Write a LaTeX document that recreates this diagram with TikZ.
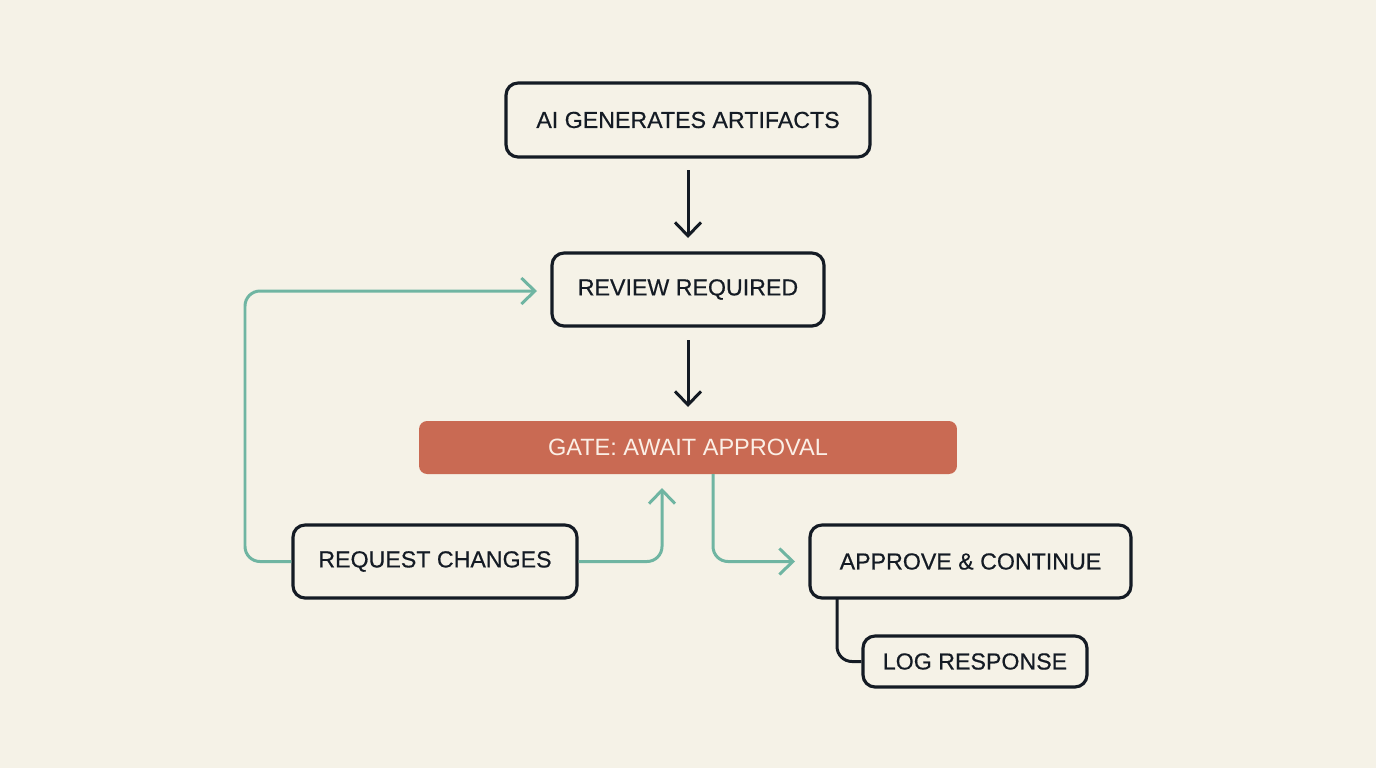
\documentclass[tikz,border=0pt]{standalone}
\usepackage{fontspec}
\setmainfont{Liberation Sans}
\newfontfamily\boxfont{Liberation Sans}[FakeBold=0.5]
\usetikzlibrary{arrows.meta}
\definecolor{bgc}{HTML}{F5F2E7}
\definecolor{ink}{HTML}{141B24}
\definecolor{teal}{HTML}{6FB5A2}
\definecolor{gatec}{HTML}{C96A53}
\definecolor{gatetext}{HTML}{FBEFE6}
\tikzset{
  box/.style={draw=ink, line width=1.8pt, rounded corners=0.24cm, fill=bgc, inner sep=0pt, font=\boxfont\fontsize{13.2}{15}\selectfont, text=ink},
  gatebox/.style={fill=gatec, rounded corners=0.16cm, inner sep=0pt, font=\fontsize{13.4}{15}\selectfont, text=gatetext},
  darrow/.style={draw=ink, line width=1.7pt, -{Straight Barb[length=0.27cm,width=0.52cm,line width=1.7pt]}},
  tarrow/.style={draw=teal, line width=1.7pt, rounded corners=0.3cm, -{Straight Barb[length=0.27cm,width=0.52cm,line width=1.7pt]}},
  dline/.style={draw=ink, line width=1.7pt, rounded corners=0.3cm},
}
\begin{document}
\begin{tikzpicture}[x=0.02cm,y=-0.02cm]
\fill[bgc] (0,0) rectangle (1376,768);
\useasboundingbox (0,0) rectangle (1376,768);
\node[box, minimum width=7.28cm, minimum height=1.48cm] (ai) at (688,120) {AI GENERATES ARTIFACTS};
\node[box, minimum width=5.44cm, minimum height=1.46cm] (rev) at (688,289.5) {REVIEW REQUIRED};
\node[gatebox, minimum width=10.76cm, minimum height=1.06cm] (gate) at (688,447.5) {GATE: AWAIT APPROVAL};
\node[box, minimum width=5.68cm, minimum height=1.46cm] (req) at (435,561.5) {REQUEST CHANGES};
\node[box, minimum width=6.42cm, minimum height=1.46cm] (app) at (970.5,561.5) {APPROVE \& CONTINUE};
\node[box, minimum width=4.48cm, minimum height=1.02cm] (log) at (975,661.5) {LOG RESPONSE};
\coordinate (a1s) at (688,170);
\coordinate (a1e) at (688,238);
\coordinate (a2s) at (688,340);
\coordinate (a2e) at (688,407);
\draw[darrow] (a1s) -- (a1e);
\draw[darrow] (a2s) -- (a2e);
\coordinate (revin) at (537,291);
\draw[tarrow] (req.west) -- (245,561.5) -- (245,291) -- (revin);
\coordinate (gatein) at (662,488);
\draw[tarrow] (req.east) -- (662,561.5) -- (gatein);
\coordinate (appin) at (795,561.5);
\draw[tarrow] (713,474) -- (713,561.5) -- (appin);
\draw[dline] (837,598) -- (837,661.5) -- (log.west);
\end{tikzpicture}
\end{document}
